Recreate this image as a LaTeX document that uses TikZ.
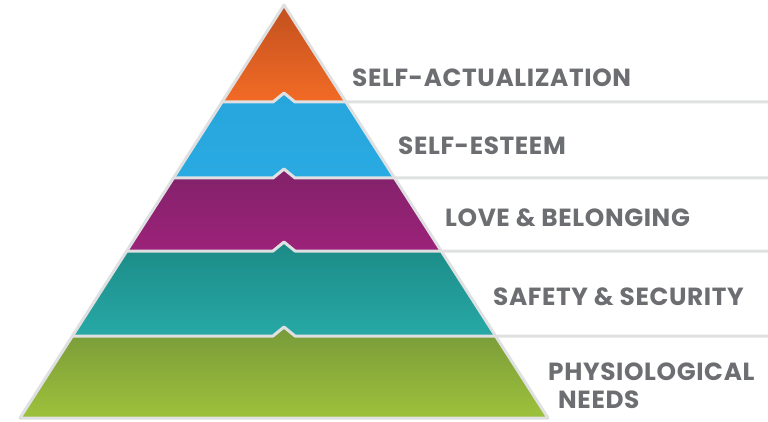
\documentclass[tikz,border=0pt]{standalone}
\usepackage{fontspec}
\newfontfamily\labelfont{Poppins}[LetterSpace=2.5]
\definecolor{sepgray}{HTML}{DFE0E1}
\definecolor{txtgray}{HTML}{6D6E71}
\definecolor{orTop}{HTML}{C2501F}
\definecolor{orBot}{HTML}{F26B25}
\definecolor{blTop}{HTML}{27A6DD}
\definecolor{blBot}{HTML}{2AAAE2}
\definecolor{puTop}{HTML}{82226A}
\definecolor{puBot}{HTML}{9C2279}
\definecolor{teTop}{HTML}{1C8A86}
\definecolor{teBot}{HTML}{27A9A6}
\definecolor{grTop}{HTML}{789A3A}
\definecolor{grBot}{HTML}{9EC13B}
\begin{document}
\begin{tikzpicture}[x=1pt,y=-1pt,
  sep/.style={draw=sepgray,line width=3pt,line join=round,line cap=butt},
  lbl/.style={anchor=west,inner sep=0pt,text=txtgray,font=\labelfont\bfseries\fontsize{24.8}{28}\selectfont}]
\useasboundingbox (0,0) rectangle (768,422);
% layers
\shade[top color=orTop,bottom color=orBot]
  (284,5) -- (346,102) -- (295,102) -- (284,93) -- (273,102) -- (222,102) -- cycle;
\shade[top color=blTop,bottom color=blBot]
  (222,102) -- (273,102) -- (284,93) -- (295,102) -- (346,102) -- (394.6,178)
  -- (295,178) -- (284,169) -- (273,178) -- (173.4,178) -- cycle;
\shade[top color=puTop,bottom color=puBot]
  (173.4,178) -- (273,178) -- (284,169) -- (295,178) -- (394.6,178) -- (441.2,251)
  -- (295,251) -- (284,242) -- (273,251) -- (126.8,251) -- cycle;
\shade[top color=teTop,bottom color=teBot]
  (126.8,251) -- (273,251) -- (284,242) -- (295,251) -- (441.2,251) -- (495.6,336)
  -- (295,336) -- (284,327) -- (273,336) -- (72.4,336) -- cycle;
\shade[top color=grTop,bottom color=grBot]
  (72.4,336) -- (273,336) -- (284,327) -- (295,336) -- (495.6,336) -- (548,418)
  -- (20,418) -- cycle;
% separators
\draw[sep] (222,102) -- (273,102) -- (284,93) -- (295,102) -- (768,102);
\draw[sep] (173.4,178) -- (273,178) -- (284,169) -- (295,178) -- (768,178);
\draw[sep] (126.8,251) -- (273,251) -- (284,242) -- (295,251) -- (768,251);
\draw[sep] (72.4,336) -- (273,336) -- (284,327) -- (295,336) -- (768,336);
% outline
\draw[sep] (284,5) -- (548,418) -- (20,418) -- cycle;
% labels
\node[lbl] (actual) at (352,78) {SELF-ACTUALIZATION};
\node[lbl] (esteem) at (398,146) {SELF-ESTEEM};
\node[lbl] (love) at (445,218) {LOVE \& BELONGING};
\node[lbl] (safety) at (493,297) {SAFETY \& SECURITY};
\node[lbl] (physio) at (548,372) {PHYSIOLOGICAL};
\node[lbl] (needs) at (558,400) {NEEDS};
\end{tikzpicture}
\end{document}
